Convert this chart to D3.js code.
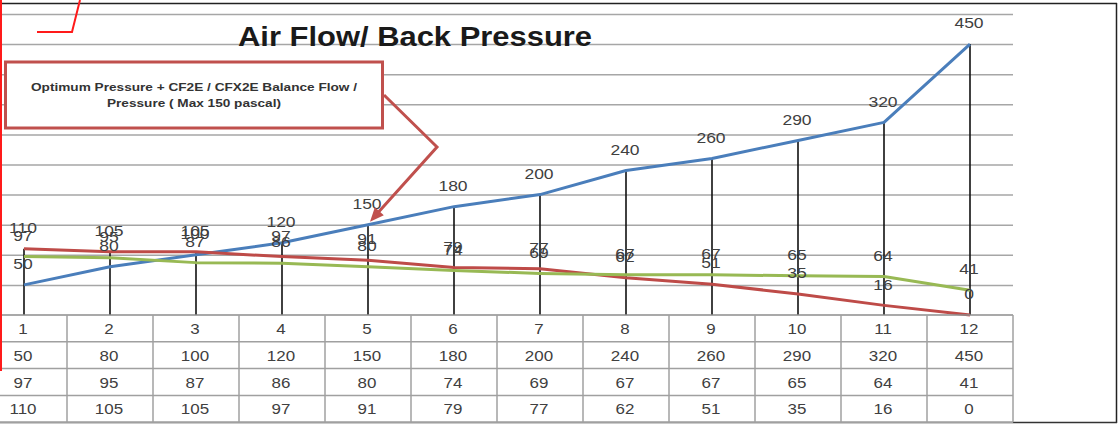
<!DOCTYPE html>
<html>
<head>
<meta charset="utf-8">
<script src="https://cdn.jsdelivr.net/npm/d3@7"></script>
<style>
  html, body { margin: 0; padding: 0; background: #fff; }
  svg { display: block; }
</style>
</head>
<body>
<svg id="chart" width="1120" height="424"></svg>
<script>
// ---- data ----
const categories = [1, 2, 3, 4, 5, 6, 7, 8, 9, 10, 11, 12];
const airFlow    = [50, 80, 100, 120, 150, 180, 200, 240, 260, 290, 320, 450];
const seriesB    = [97, 95, 87, 86, 80, 74, 69, 67, 67, 65, 64, 41];
const seriesC    = [110, 105, 105, 97, 91, 79, 77, 62, 51, 35, 16, 0];
const yTicks     = [50, 100, 150, 200, 250, 300, 350, 400, 450, 500];
const title      = "Air Flow/ Back Pressure";
const noteLines  = ["Optimum Pressure + CF2E / CFX2E Balance Flow /", "Pressure ( Max 150 pascal)"];

const series = [
  { name: "flow", values: airFlow, color: "#4a7ebb" },
  { name: "b",    values: seriesB, color: "#98b954" },
  { name: "c",    values: seriesC, color: "#be4b48" }
];

const svg = d3.select("#chart");
const FONT = "'Liberation Sans', Arial, sans-serif";
const SX = 1.13; // horizontal stretch of the reference's text

const x = d3.scaleBand().domain(categories).range([-19, 1013]).padding(0);
const cx = c => x(c) + x.bandwidth() / 2;
const y = d3.scaleLinear().domain([0, 500]).range([315, 14]);

// outer frame
svg.append("line").attr("x1", 0).attr("x2", 1117).attr("y1", 3.5).attr("y2", 3.5)
  .attr("stroke", "#222").attr("stroke-width", 1.5);
svg.append("line").attr("x1", 1116.5).attr("x2", 1116.5).attr("y1", 3).attr("y2", 423)
  .attr("stroke", "#222").attr("stroke-width", 1.5);
svg.append("line").attr("x1", 0).attr("x2", 1117).attr("y1", 422.5).attr("y2", 422.5)
  .attr("stroke", "#333").attr("stroke-width", 1.5);

// gridlines via axis
const grid = svg.append("g").attr("transform", "translate(0,0)")
  .call(d3.axisRight(y).tickValues(yTicks).tickSize(1013).tickFormat(""));
grid.select(".domain").remove();
grid.selectAll(".tick line").attr("stroke", "#a6a6a6").attr("stroke-width", 1.5);

// drop lines (from max of each category to zero)
svg.append("g").selectAll("line").data(categories).join("line")
  .attr("x1", c => cx(c)).attr("x2", c => cx(c))
  .attr("y1", (c, i) => y(d3.max(series, s => s.values[i])))
  .attr("y2", y(0))
  .attr("stroke", "#111").attr("stroke-width", 1.6);

// series lines
const line = d3.line().x((v, i) => cx(categories[i])).y(v => y(v));
const drawOrder = [series[0], series[2], series[1]];
drawOrder.forEach(s => {
  svg.append("path").datum(s.values).attr("d", line)
    .attr("fill", "none").attr("stroke", s.color).attr("stroke-width", 3)
    .attr("stroke-linejoin", "round");
});

// data labels
function stretchedText(g, tx, ty, txt, size, opts = {}) {
  return g.append("text")
    .attr("transform", `translate(${tx},${ty}) scale(${opts.sx || SX},1)`)
    .attr("text-anchor", opts.anchor || "middle")
    .attr("dominant-baseline", "central")
    .attr("font-family", FONT)
    .attr("font-size", size)
    .attr("font-weight", opts.weight || "normal")
    .attr("fill", opts.fill || "#404040")
    .text(txt);
}
const labelG = svg.append("g");
[series[2], series[1], series[0]].forEach(s => {
  s.values.forEach((v, i) => {
    stretchedText(labelG, cx(categories[i]) - 1, y(v) - 21, v, 15.5);
  });
});

// table
const rows = [categories, airFlow, seriesB, seriesC];
const rowTop = 315, rowH = 26.8;
const tbl = svg.append("g");
rows.forEach((r, ri) => {
  r.forEach((v, ci) => {
    stretchedText(tbl, cx(categories[ci]) - 1, rowTop + rowH * ri + rowH / 2 + 0.5, v, 15);
  });
});
// table horizontal lines
d3.range(rows.length + 1).forEach(k => {
  tbl.append("line").attr("x1", 0).attr("x2", 1013)
    .attr("y1", rowTop + rowH * k).attr("y2", rowTop + rowH * k)
    .attr("stroke", k === 0 ? "#8c8c8c" : "#a0a0a0").attr("stroke-width", 1.5);
});
// table vertical lines
categories.forEach(c => {
  const xr = x(c) + x.bandwidth();
  tbl.append("line").attr("x1", xr).attr("x2", xr)
    .attr("y1", rowTop).attr("y2", rowTop + rowH * rows.length)
    .attr("stroke", "#a0a0a0").attr("stroke-width", 1.5);
});

// title
svg.append("text")
  .attr("x", 415).attr("y", 46)
  .attr("text-anchor", "middle")
  .attr("font-family", FONT).attr("font-size", 27.5).attr("font-weight", "bold")
  .attr("fill", "#1a1a1a")
  .attr("textLength", 354).attr("lengthAdjust", "spacingAndGlyphs")
  .text(title);

// annotation callout
const tipX = cx(5) + 2, tipY = y(150) - 3;
svg.append("rect").attr("x", 5.5).attr("y", 62).attr("width", 377).attr("height", 66)
  .attr("fill", "#fff").attr("stroke", "#c0504d").attr("stroke-width", 3);
svg.append("polyline")
  .attr("points", `384,95 437,147 ${tipX + 7},${tipY - 8}`)
  .attr("fill", "none").attr("stroke", "#c0504d").attr("stroke-width", 3)
  .attr("stroke-linejoin", "miter");
// arrow head
const ang = Math.atan2(tipY - 147, tipX - 437);
const ah = 14, aw = 6;
const bx = tipX - ah * Math.cos(ang), by = tipY - ah * Math.sin(ang);
svg.append("path")
  .attr("d", `M${tipX},${tipY} L${bx + aw * Math.sin(ang)},${by - aw * Math.cos(ang)} L${bx - aw * Math.sin(ang)},${by + aw * Math.cos(ang)} Z`)
  .attr("fill", "#c0504d");
svg.append("text").attr("x", 194).attr("y", 91)
  .attr("text-anchor", "middle").attr("font-family", FONT).attr("font-size", 11.5)
  .attr("font-weight", "bold").attr("fill", "#333")
  .attr("textLength", 326).attr("lengthAdjust", "spacingAndGlyphs")
  .text(noteLines[0]);
svg.append("text").attr("x", 194).attr("y", 107)
  .attr("text-anchor", "middle").attr("font-family", FONT).attr("font-size", 11.5)
  .attr("font-weight", "bold").attr("fill", "#333")
  .attr("textLength", 174).attr("lengthAdjust", "spacingAndGlyphs")
  .text(noteLines[1]);

// red marker lines at top-left / left edge
svg.append("polyline").attr("points", "37,32 72,32 80,0")
  .attr("fill", "none").attr("stroke", "#ff1a1a").attr("stroke-width", 2);
svg.append("line").attr("x1", 1).attr("x2", 1).attr("y1", 0).attr("y2", 371)
  .attr("stroke", "#ff1a1a").attr("stroke-width", 2);
</script>
</body>
</html>
